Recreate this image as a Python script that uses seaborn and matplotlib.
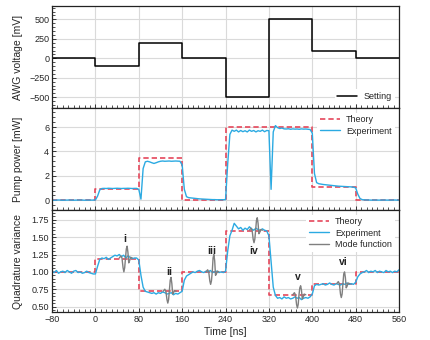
import numpy as np
import pandas as pd
import matplotlib
matplotlib.use("Agg")
import matplotlib.pyplot as plt
from matplotlib.ticker import AutoMinorLocator, FormatStrFormatter
import seaborn as sns

# ---------------- data ----------------
seg_edges = [-80, 0, 80, 160, 240, 320, 400, 480, 560]
setting_mv = [0, -100, 200, 0, -500, 500, 100, 0]
pump_theory = [0, 0.93, 3.48, 0, 5.97, 5.97, 1.1, 0]
quad_theory = [1.0, 1.19, 0.72, 1.0, 1.59, 0.67, 0.83, 1.0]

time_ns = list(range(-80, 561, 4))

pump_exp = [
    0.02, 0.01, 0.02, 0.03, 0.02, 0.01, 0.02, 0.02, 0.03, 0.02,
    0.01, 0.02, 0.02, 0.03, 0.02, 0.01, 0.02, 0.02, 0.02, 0.02,
    0.03, 0.35, 0.85, 0.97,
    0.98, 0.97, 0.99, 0.98, 0.97, 0.98, 0.99, 0.98, 0.97, 0.98, 0.98, 0.99, 0.98, 0.97, 0.98, 0.98,
    0.9, 0.1, 2.6, 3.15, 3.2, 3.15, 3.08, 3.02, 3.08, 3.15,
    3.2, 3.22, 3.2, 3.21, 3.22, 3.2, 3.21, 3.22, 3.21, 3.2,
    2.9, 0.9, 0.3, 0.22,
    0.2, 0.18, 0.16, 0.14, 0.12, 0.11, 0.1, 0.09, 0.08, 0.07, 0.06, 0.06, 0.05, 0.05, 0.05, 0.05,
    0.06, 3.0, 5.4, 5.75,
    5.65, 5.75, 5.6, 5.72, 5.62, 5.7, 5.6, 5.75, 5.65, 5.72, 5.6, 5.7, 5.65, 5.75, 5.62, 5.72,
    5.7, 0.9, 5.6, 6.12, 5.95, 5.88, 5.92, 5.85,
    5.84, 5.86, 5.82, 5.85, 5.83, 5.84, 5.82, 5.85, 5.83, 5.84, 5.82, 5.8,
    5.5, 2.2, 1.45, 1.36,
    1.33, 1.3, 1.28, 1.26, 1.24, 1.22, 1.2, 1.18, 1.16, 1.15, 1.14, 1.13, 1.12, 1.11, 1.1, 1.08,
    1.02, 0.5, 0.15, 0.06,
    0.04, 0.03, 0.03, 0.02, 0.02, 0.03, 0.02, 0.02, 0.02, 0.03, 0.02, 0.02, 0.02, 0.02, 0.03, 0.02, 0.02,
]

quad_exp = [
    1.01, 0.99, 1.02, 0.98, 1.0, 1.01, 0.99, 1.02, 1.0, 0.98,
    1.01, 1.02, 0.99, 1.0, 0.98, 0.99, 1.01, 0.99, 0.98, 0.97,
    0.97, 1.08, 1.18, 1.2,
    1.19, 1.21, 1.18, 1.2, 1.22, 1.24, 1.23, 1.25, 1.22, 1.24, 1.2, 1.23, 1.21, 1.19, 1.2, 1.2,
    1.17, 0.95, 0.78, 0.72,
    0.71, 0.7, 0.69, 0.7, 0.68, 0.7, 0.69, 0.71, 0.7, 0.68, 0.69, 0.7, 0.67, 0.69, 0.68, 0.7,
    0.72, 0.88, 0.94, 0.96,
    0.98, 1.0, 0.99, 1.01, 1.02, 1.0, 0.99, 1.01, 1.0, 1.02, 0.99, 1.0, 1.01, 0.99, 1.0, 0.99,
    1.01, 1.3, 1.52, 1.6,
    1.7, 1.66, 1.62, 1.64, 1.6, 1.63, 1.61, 1.65, 1.62, 1.6, 1.63, 1.61, 1.6, 1.62, 1.6, 1.59,
    1.52, 1.15, 0.78, 0.66,
    0.62, 0.63, 0.61, 0.64, 0.62, 0.63, 0.61, 0.62, 0.64, 0.62, 0.63, 0.6, 0.62, 0.63, 0.62, 0.64,
    0.68, 0.8, 0.82, 0.81,
    0.82, 0.83, 0.81, 0.82, 0.84, 0.82, 0.81, 0.83, 0.82, 0.81, 0.83, 0.82, 0.84, 0.82, 0.83, 0.82,
    0.85, 0.93, 0.97, 0.99,
    1.0, 1.02, 0.99, 1.01, 1.0, 1.02, 0.99, 1.01, 1.0, 0.99, 1.02, 1.0, 1.01, 0.99, 1.01, 1.0, 1.03,
]

# mode-function wavelets (time, value)
mode_i_t = [44, 47, 49, 51, 52.5, 54, 55.5, 57, 58.5, 60, 61.5, 63, 65, 68]
mode_i_v = [1.2, 1.23, 1.2, 1.06, 1.0, 1.06, 1.2, 1.33, 1.37, 1.28, 1.13, 1.16, 1.21, 1.2]
mode_ii_t = [125, 128, 130, 132, 133.5, 135, 136.5, 138, 139.5, 141, 142.5, 144, 146, 149]
mode_ii_v = [0.72, 0.75, 0.72, 0.6, 0.55, 0.6, 0.74, 0.88, 0.92, 0.83, 0.68, 0.7, 0.73, 0.72]
mode_iii_t = [204, 207, 209, 211, 212.5, 214, 215.5, 217, 218.5, 220, 221.5, 223, 225, 228]
mode_iii_v = [1.0, 1.03, 1.0, 0.87, 0.82, 0.87, 1.0, 1.2, 1.25, 1.16, 0.95, 0.97, 1.01, 1.0]
mode_iv_t = [284, 287, 289, 291, 292.5, 294, 295.5, 297, 298.5, 300, 301.5, 303, 305, 308]
mode_iv_v = [1.6, 1.63, 1.6, 1.47, 1.42, 1.47, 1.6, 1.74, 1.78, 1.7, 1.55, 1.57, 1.61, 1.6]
mode_v_t = [364, 367, 369, 371, 372.5, 374, 375.5, 377, 378.5, 380, 381.5, 383, 385, 388]
mode_v_v = [0.67, 0.7, 0.67, 0.53, 0.48, 0.53, 0.67, 0.77, 0.8, 0.74, 0.61, 0.63, 0.68, 0.67]
mode_vi_t = [445, 448, 450, 452, 453.5, 455, 456.5, 458, 459.5, 461, 462.5, 464, 466, 469]
mode_vi_v = [0.83, 0.86, 0.83, 0.68, 0.63, 0.68, 0.83, 0.97, 1.0, 0.92, 0.77, 0.79, 0.84, 0.83]

mode_labels = ["i", "ii", "iii", "iv", "v", "vi"]
mode_label_t = [55, 136, 215, 292, 374, 457]
mode_label_v = [1.47, 1.0, 1.3, 1.3, 0.93, 1.14]

# ---------------- style ----------------
sns.set_theme(style="ticks")
plt.rcParams['font.family'] = ['Liberation Sans', 'DejaVu Sans']
plt.rcParams['axes.linewidth'] = 0.9
plt.rcParams['mathtext.default'] = 'regular'

RED = '#E5475B'
BLUE = '#2BAAE2'
GREY = '#7F7F7F'
GRID = '#DADADA'

fig = plt.figure(figsize=(4.3, 3.4), dpi=100)
gs = fig.add_gridspec(3, 1, left=0.121, right=0.928, top=0.982, bottom=0.082, hspace=0)
ax1 = fig.add_subplot(gs[0])
ax2 = fig.add_subplot(gs[1], sharex=ax1)
ax3 = fig.add_subplot(gs[2], sharex=ax1)

def step_df(vals):
    return pd.DataFrame({"t": seg_edges, "v": list(vals) + [vals[-1]]})

# panel 1
d = step_df(setting_mv)
sns.lineplot(data=d, x="t", y="v", ax=ax1, color='black', lw=1.1,
             drawstyle='steps-post', estimator=None, sort=False, label='Setting')

# panel 2
d = step_df(pump_theory)
sns.lineplot(data=d, x="t", y="v", ax=ax2, color=RED, lw=1.2, dashes=False,
             drawstyle='steps-post', estimator=None, sort=False, label='Theory')
ax2.lines[-1].set_dashes([3.2, 1.8])
de = pd.DataFrame({"t": time_ns, "v": pump_exp})
sns.lineplot(data=de, x="t", y="v", ax=ax2, color=BLUE, lw=1.0,
             estimator=None, sort=False, label='Experiment')

# panel 3
d = step_df(quad_theory)
sns.lineplot(data=d, x="t", y="v", ax=ax3, color=RED, lw=1.2, dashes=False,
             drawstyle='steps-post', estimator=None, sort=False, label='Theory')
ax3.lines[-1].set_dashes([3.2, 1.8])
dq = pd.DataFrame({"t": time_ns, "v": quad_exp})
sns.lineplot(data=dq, x="t", y="v", ax=ax3, color=BLUE, lw=1.0,
             estimator=None, sort=False, label='Experiment')
waves = [(mode_i_t, mode_i_v), (mode_ii_t, mode_ii_v), (mode_iii_t, mode_iii_v),
         (mode_iv_t, mode_iv_v), (mode_v_t, mode_v_v), (mode_vi_t, mode_vi_v)]
for k, (tt, vv) in enumerate(waves):
    sns.lineplot(x=tt, y=vv, ax=ax3, color=GREY, lw=1.0, estimator=None, sort=False,
                 label='Mode function' if k == 0 else None)
for lab, tx, ty in zip(mode_labels, mode_label_t, mode_label_v):
    ax3.text(tx, ty, lab, fontsize=7.5, fontweight='bold', ha='center', va='center', color='#222222')

# axes formatting
ax1.set_xlim(-80, 560)
ax1.set_ylim(-640, 670)
ax1.set_yticks([-500, -250, 0, 250, 500])
ax2.set_ylim(-0.8, 7.55)
ax2.set_yticks([0, 2, 4, 6])
ax3.set_ylim(0.42, 1.89)
ax3.set_yticks([0.5, 0.75, 1.0, 1.25, 1.5, 1.75])
ax3.yaxis.set_major_formatter(FormatStrFormatter('%.2f'))
ax3.set_xticks([-80, 0, 80, 160, 240, 320, 400, 480, 560])

ax1.set_ylabel('AWG voltage [mV]', fontsize=7.5)
ax2.set_ylabel('Pump power [mW]', fontsize=7.5)
ax3.set_ylabel('Quadrature variance', fontsize=7.5)
ax3.set_xlabel('Time [ns]', fontsize=7.5, labelpad=2)
ax1.set_xlabel('')
ax2.set_xlabel('')

for ax in (ax1, ax2, ax3):
    ax.grid(True, which='major', color=GRID, lw=0.8)
    ax.set_axisbelow(True)
    ax.xaxis.set_minor_locator(AutoMinorLocator(8))
    ax.yaxis.set_minor_locator(AutoMinorLocator(5))
    ax.tick_params(which='both', direction='in', top=False, right=False, labelsize=6.5,
                   color='#333333', pad=2)
    ax.tick_params(which='major', length=3, width=0.7)
    ax.tick_params(which='minor', length=2, width=0.6)
    for s in ax.spines.values():
        s.set_visible(True)
        s.set_color('#222222')
for ax in (ax1, ax2):
    ax.tick_params(labelbottom=False)

leg_kw = dict(fontsize=6.5, frameon=True, fancybox=False, edgecolor='none',
              facecolor='white', framealpha=1, handlelength=2.2, borderpad=0.3,
              labelspacing=0.25, handletextpad=0.7)
ax1.legend(loc='lower right', **leg_kw)
ax2.legend(loc='upper right', **leg_kw)
ax3.legend(loc='upper right', **leg_kw)

fig.align_ylabels([ax1, ax2, ax3])
fig.savefig('out.png', dpi=100)
